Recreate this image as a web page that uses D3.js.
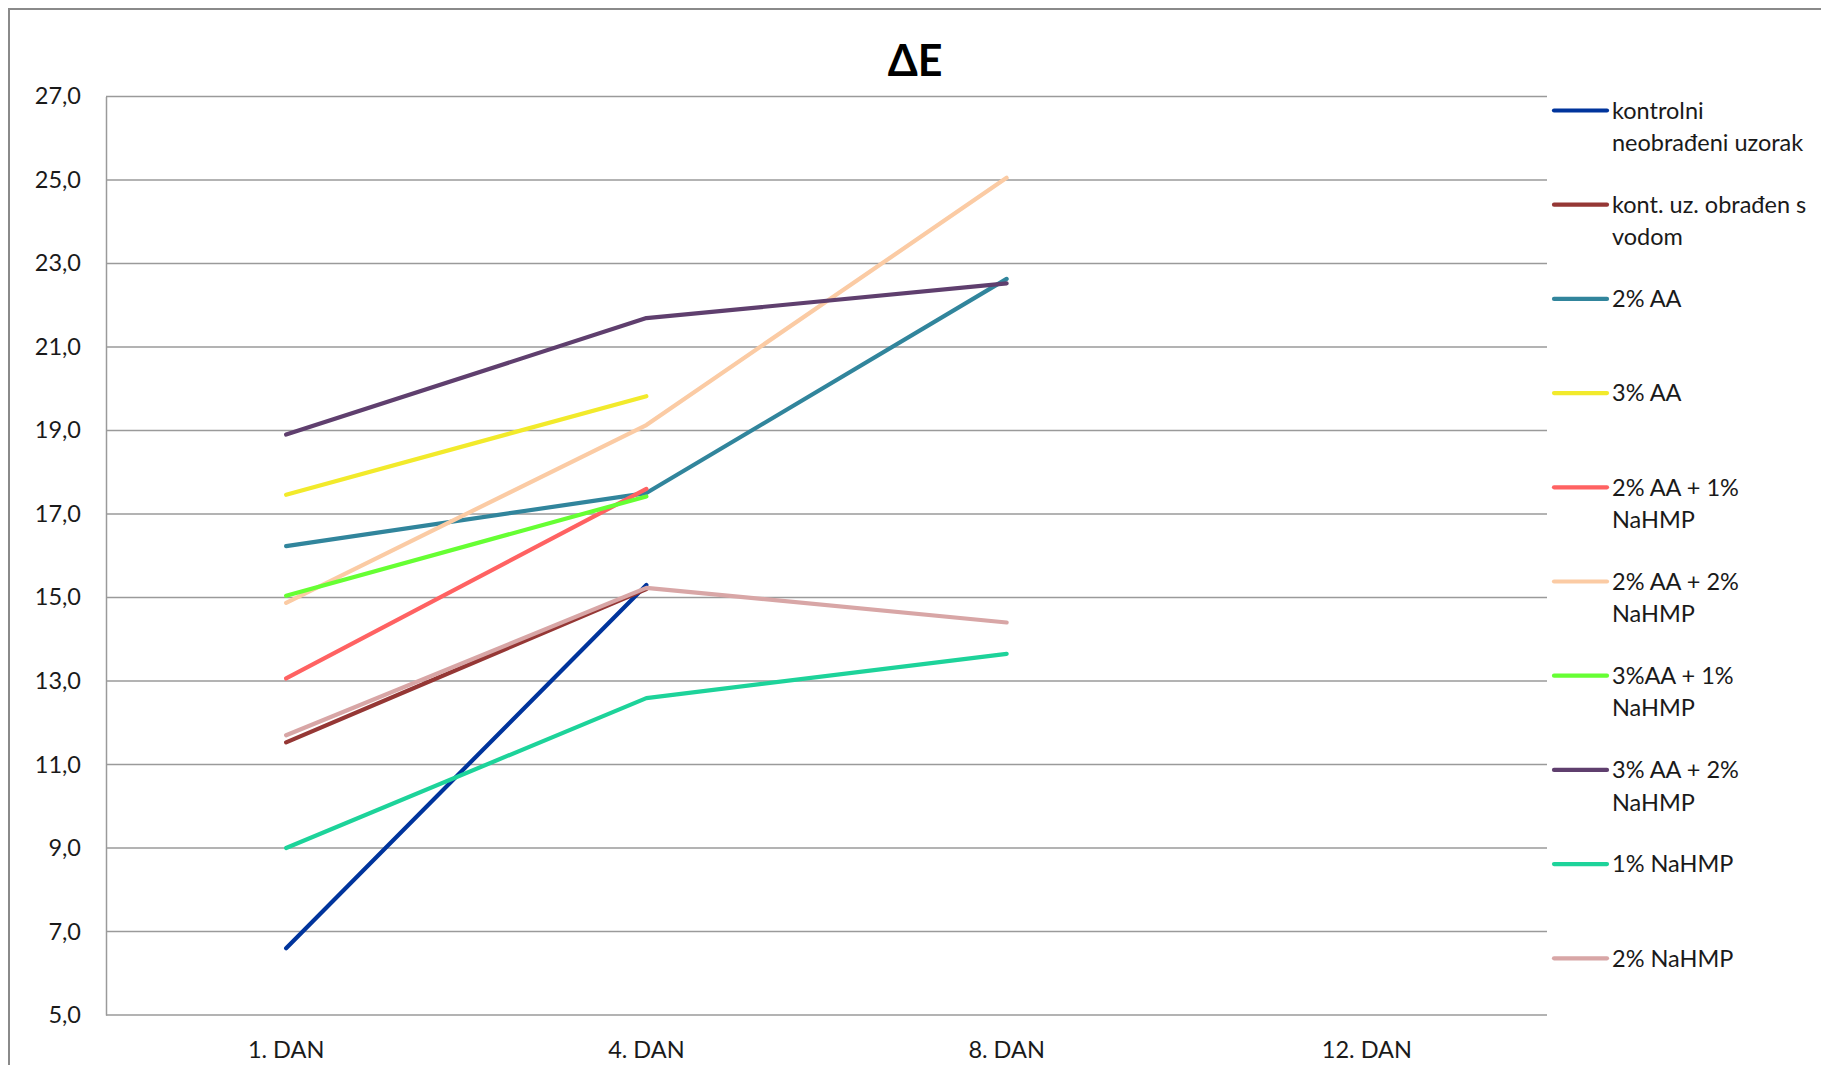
<!DOCTYPE html>
<html>
<head>
<meta charset="utf-8">
<script src="https://cdn.jsdelivr.net/npm/d3@7"></script>
<style>
  html, body { margin: 0; padding: 0; background: #fff; overflow: hidden; }
  svg { display: block; font-family: Lato, "Open Sans", sans-serif; }
</style>
</head>
<body>
<svg id="chart" width="1821" height="1065"></svg>
<script>
const title = "ΔE";
const categories = ["1. DAN", "4. DAN", "8. DAN", "12. DAN"];
const yTicks = [5, 7, 9, 11, 13, 15, 17, 19, 21, 23, 25, 27];

const seriesNames = [
  ["kontrolni", "neobrađeni uzorak"],
  ["kont. uz. obrađen s", "vodom"],
  ["2% AA"],
  ["3% AA"],
  ["2% AA + 1%", "NaHMP"],
  ["2% AA + 2%", "NaHMP"],
  ["3%AA + 1%", "NaHMP"],
  ["3% AA + 2%", "NaHMP"],
  ["1% NaHMP"],
  ["2% NaHMP"]
];
const seriesColors = ["#00349C", "#953735", "#31859C", "#F2EA2B", "#FF6262",
                      "#FBCBA4", "#66FF33", "#5F3F6E", "#1DD39A", "#D8A6A6"];

const kontrolni   = [6.6, 15.3, null, null];
const kontVodom   = [11.53, 15.2, null, null];
const aa2         = [16.23, 17.5, 22.63, null];
const aa3         = [17.46, 19.82, null, null];
const aa2na1      = [13.06, 17.6, null, null];
const aa2na2      = [14.87, 19.13, 25.05, null];
const aa3na1      = [15.04, 17.42, null, null];
const aa3na2      = [18.9, 21.69, 22.52, null];
const na1         = [9.0, 12.59, 13.65, null];
const na2         = [11.7, 15.23, 14.4, null];

const seriesValues = [kontrolni, kontVodom, aa2, aa3, aa2na1, aa2na2, aa3na1, aa3na2, na1, na2];

const svg = d3.select("#chart");
const pLeft = 106, pRight = 1547, pTop = 96.4, pBottom = 1015;

// outer chart border
svg.append("rect").attr("x", 9).attr("y", 9).attr("width", 1830).attr("height", 1080)
  .attr("fill", "none").attr("stroke", "#8a8a8a").attr("stroke-width", 2);

const x = d3.scaleBand().domain(categories).range([pLeft, pRight]).padding(0);
const y = d3.scaleLinear().domain([5, 27]).range([pBottom, pTop]);

// gridlines
svg.append("g").selectAll("line").data(yTicks).join("line")
  .attr("x1", pLeft).attr("x2", pRight)
  .attr("y1", d => y(d)).attr("y2", d => y(d))
  .attr("stroke", "#9a9a9a").attr("stroke-width", 1.5);

// y axis
const yAxis = svg.append("g").attr("transform", `translate(${pLeft},0)`)
  .call(d3.axisLeft(y).tickValues(yTicks).tickSize(0).tickPadding(25)
    .tickFormat(d => d3.format(".1f")(d).replace(".", ",")));
yAxis.select(".domain").attr("stroke", "#9a9a9a").attr("stroke-width", 1.5);
yAxis.selectAll("text").attr("font-size", 23.5).attr("fill", "#1a1a1a").attr("font-family", "Lato");

// x axis
const xAxis = svg.append("g").attr("transform", `translate(0,${pBottom})`)
  .call(d3.axisBottom(x).tickSize(0).tickPadding(26));
xAxis.select(".domain").remove();
xAxis.selectAll("text").attr("font-size", 23.5).attr("fill", "#1a1a1a").attr("font-family", "Lato");

// title
svg.append("text").attr("x", 915).attr("y", 76).attr("text-anchor", "middle")
  .attr("font-size", 43).attr("font-weight", "bold").attr("fill", "#000").text(title);

// lines
const line = d3.line()
  .defined(d => d.v != null)
  .x(d => x(d.c) + x.bandwidth() / 2)
  .y(d => y(d.v));

seriesValues.forEach((vals, i) => {
  const pts = vals.map((v, j) => ({ c: categories[j], v }));
  svg.append("path").datum(pts)
    .attr("d", line)
    .attr("fill", "none")
    .attr("stroke", seriesColors[i])
    .attr("stroke-width", 4.2)
    .attr("stroke-linecap", "round")
    .attr("stroke-linejoin", "round");
});

// legend
const legendY0 = 110.5, legendStep = 94.2;
const lg = svg.append("g");
seriesNames.forEach((lines, i) => {
  const ly = legendY0 + i * legendStep;
  lg.append("line").attr("x1", 1554).attr("x2", 1607).attr("y1", ly).attr("y2", ly)
    .attr("stroke", seriesColors[i]).attr("stroke-width", 4.2).attr("stroke-linecap", "round");
  const t = lg.append("text").attr("x", 1612).attr("y", ly + 8.2)
    .attr("font-size", 23.5).attr("fill", "#1a1a1a");
  lines.forEach((s, k) => {
    t.append("tspan").attr("x", 1612).attr("dy", k === 0 ? 0 : 32.4).text(s);
  });
});
</script>
</body>
</html>
